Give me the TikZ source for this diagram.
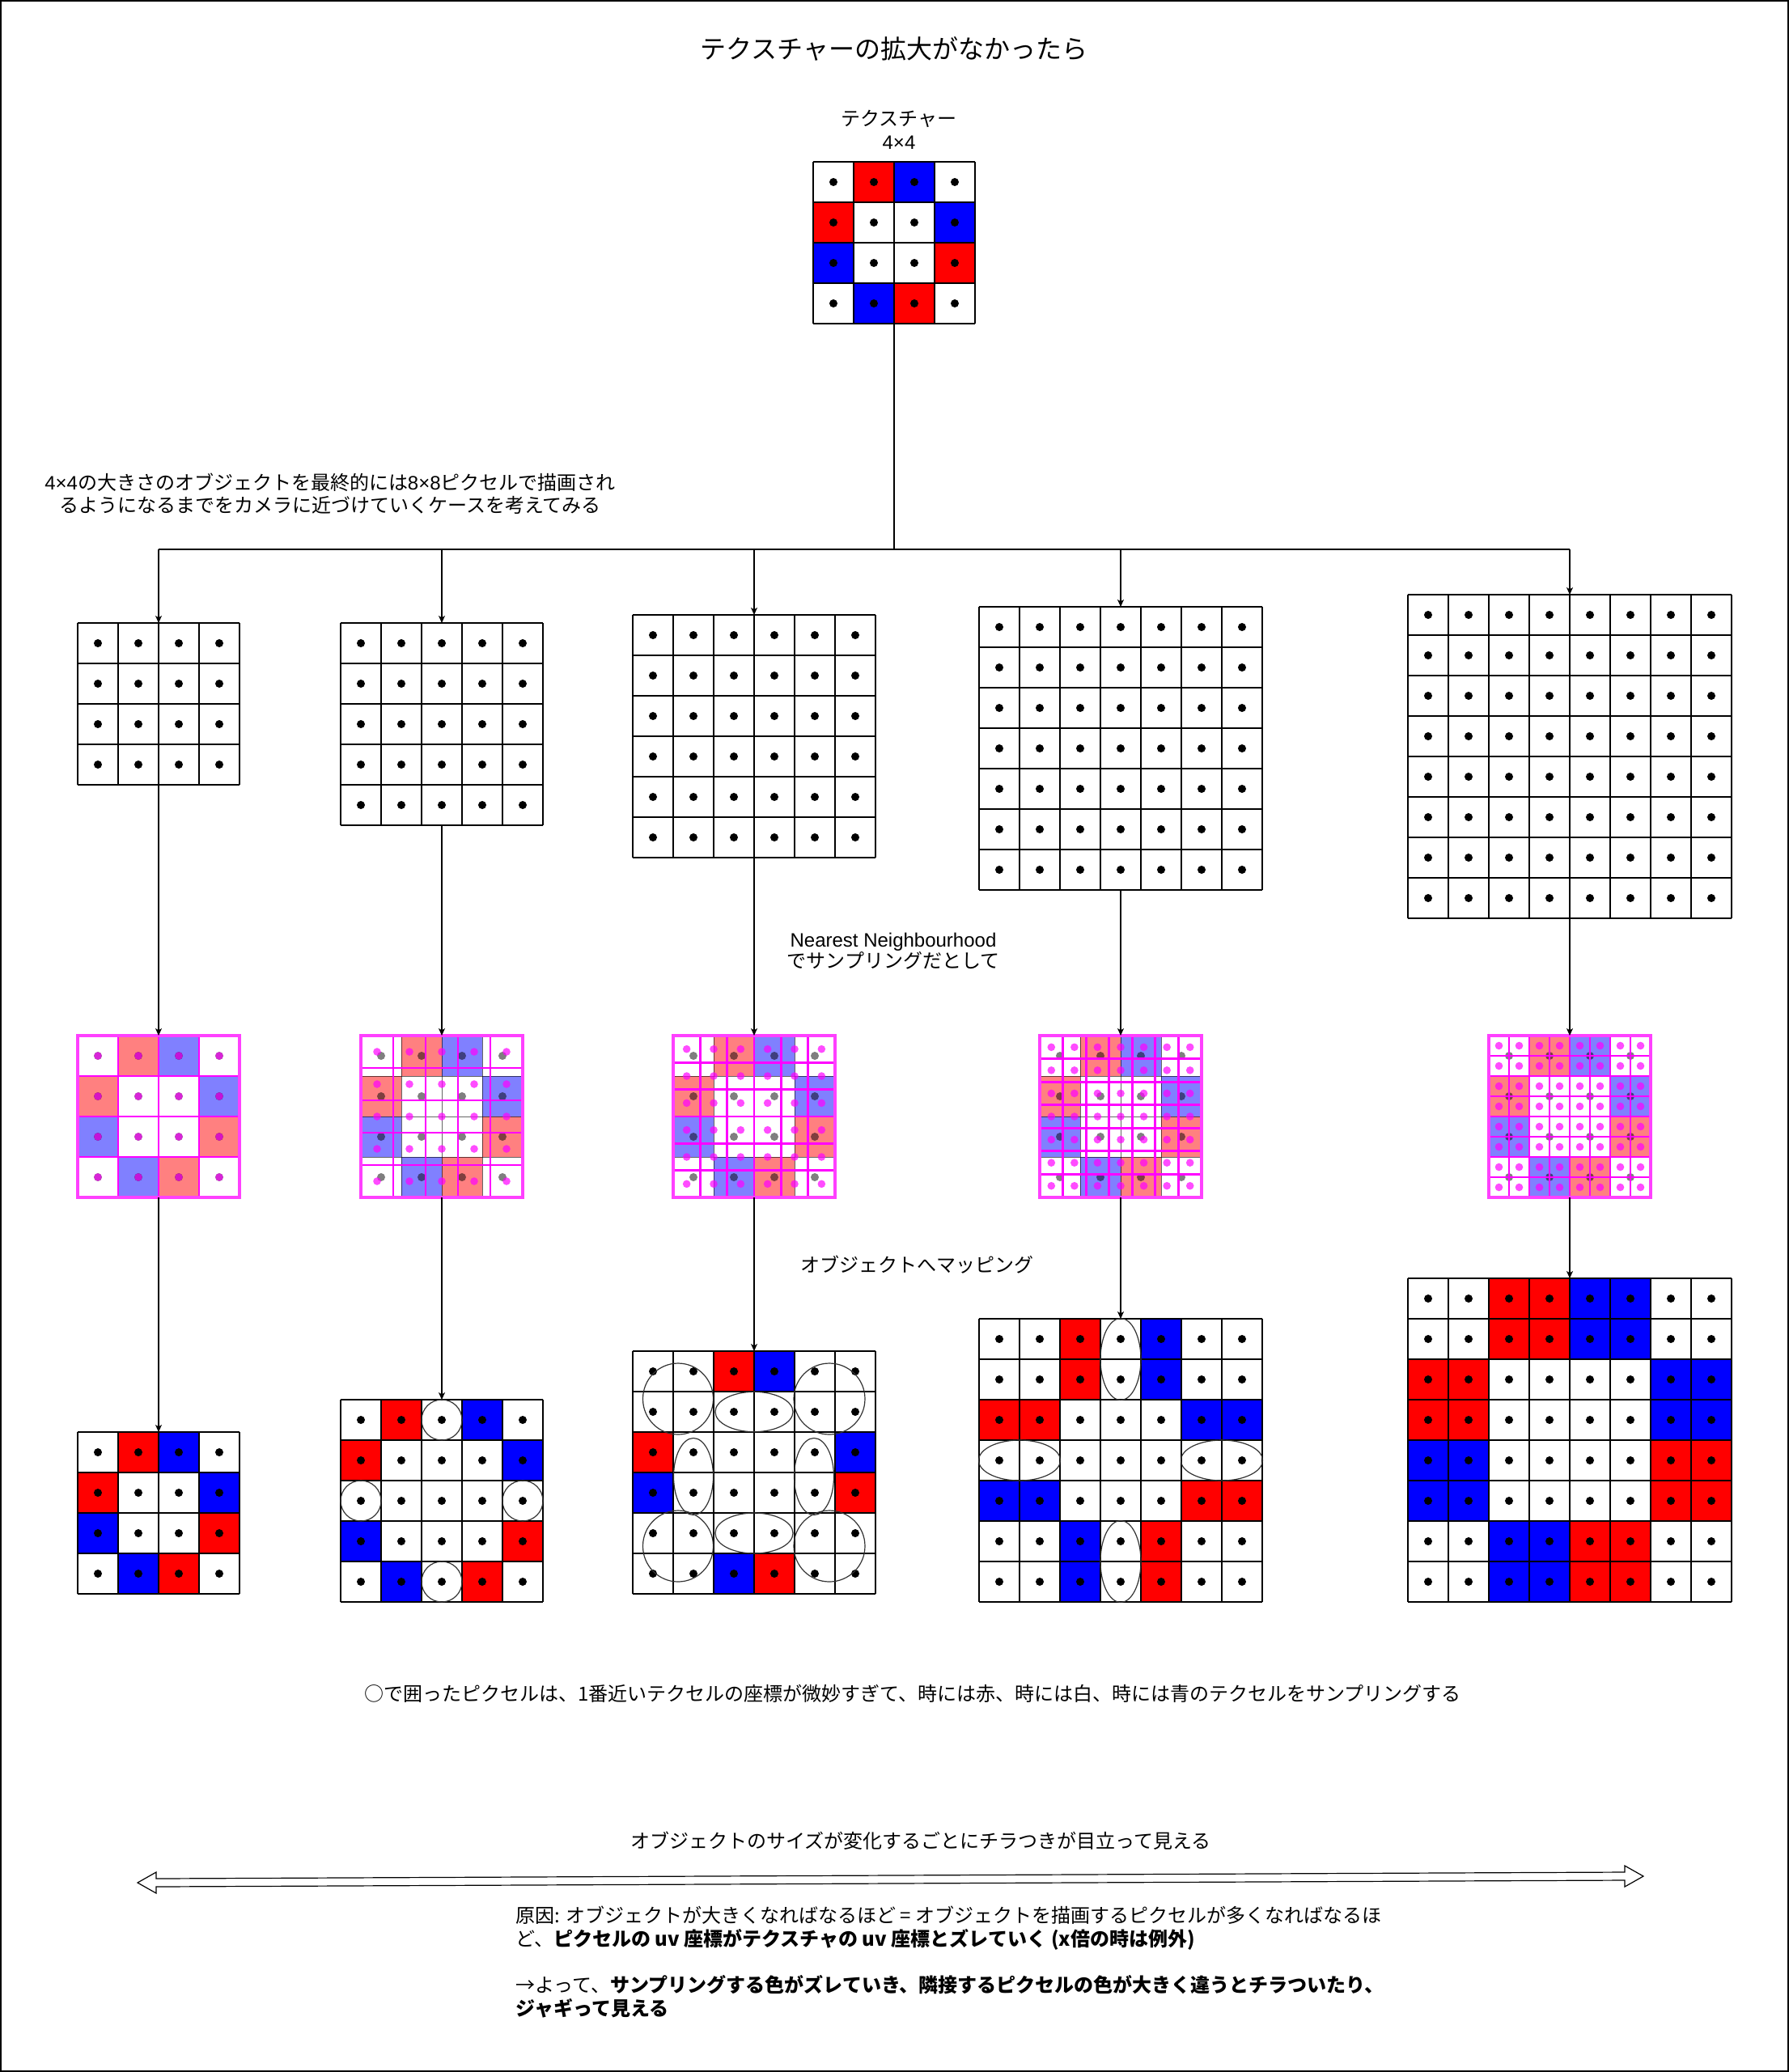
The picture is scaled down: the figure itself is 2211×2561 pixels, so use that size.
\documentclass[tikz,border=0pt]{standalone}
\usepackage{fontspec}
\setmainfont{Noto Sans CJK JP}
\newfontfamily\latf{Liberation Sans}
\usetikzlibrary{arrows.meta}
\definecolor{mymag}{RGB}{255,0,255}
\definecolor{myred}{RGB}{255,0,0}
\definecolor{myblue}{RGB}{0,0,255}
\definecolor{lred}{RGB}{255,128,128}
\definecolor{lblue}{RGB}{128,128,255}
\tikzset{
  gline/.style={draw=black, line width=1pt},
  texline/.style={draw=black, opacity=0.6, line width=0.5pt},
  mgline/.style={draw=mymag, line width=1.4pt},
  mgborder/.style={draw=mymag!75, line width=2pt},
  ellstyle/.style={draw=black!80, line width=0.6pt},
  cline/.style={draw=black, line width=0.7pt},
  conn/.style={draw=black, line width=0.7pt, -{Stealth[length=4.5pt,width=4pt,inset=1.2pt]}},
  gbox/.style={inner sep=0pt, outer sep=0pt},
  txt/.style={font=\fontsize{12}{14.5}\selectfont, inner sep=0pt, align=center},
}
\newcommand\mycell[3]{\fill[#1] ({50*#2},{50*#3}) rectangle ++(50,50);}
\newcommand\mygrid[1]{%
  \foreach \k in {0,...,#1} {%
    \draw[gline] ({50*\k},0) -- ({50*\k},{50*#1});
    \draw[gline] (0,{50*\k}) -- ({50*#1},{50*\k});
  }%
  \foreach \i in {1,...,#1} {\foreach \j in {1,...,#1} {\fill[black] ({50*\i-25},{50*\j-25}) circle[radius=2.5pt];}}%
}
\newcommand\mytexfill[3]{%
  \foreach \c/\r in {1/0,0/1,3/2,2/3} {\fill[#2] ({#1*\c},{#1*\r}) rectangle ++(#1,#1);}%
  \foreach \c/\r in {2/0,3/1,0/2,1/3} {\fill[#3] ({#1*\c},{#1*\r}) rectangle ++(#1,#1);}%
}
\newcommand\myovl[1]{%
  \fill[white] (0,0) rectangle (200,200);
  \mytexfill{50}{lred}{lblue}
  \foreach \k in {0,...,4} {%
    \draw[texline] ({50*\k},0) -- ({50*\k},200);
    \draw[texline] (0,{50*\k}) -- (200,{50*\k});
  }%
  \foreach \i in {0,...,3} {\foreach \j in {0,...,3} {\fill[black,opacity=0.5] ({50*\i+25},{50*\j+25}) circle[radius=2.5pt];}}%
  \pgfmathsetmacro\mystep{200/#1}%
  \foreach \k in {0,...,#1} {%
    \draw[mgline] ({\k*\mystep},0) -- ({\k*\mystep},200);
    \draw[mgline] (0,{\k*\mystep}) -- (200,{\k*\mystep});
  }%
  \foreach \i in {1,...,#1} {\foreach \j in {1,...,#1} {\fill[mymag,opacity=0.7] ({(\i-0.5)*\mystep},{(\j-0.5)*\mystep}) circle[radius=2.4pt];}}%
  \draw[mgborder] (0,0) rectangle (200,200);
}
\newcommand\myell[4]{\draw[ellstyle] (#1,#2) ellipse [x radius={#3*0.5pt}, y radius={#4*0.5pt}];}
\begin{document}
\begin{tikzpicture}[x=0.5pt,y=-0.5pt]
\useasboundingbox (0,0) rectangle (2211,2561);
\fill[white] (0,0) rectangle (2211,2561);
\draw[line width=1pt] (1,1) rectangle (2210,2560);

% ---------- texts ----------
\node[txt, font=\fontsize{16}{19}\selectfont] (title) at (1105,60) {テクスチャーの拡大がなかったら};
\node[txt] (texlabel) at (1111,160) {テクスチャー\\{\latf 4×4}};
\node[txt, font=\fontsize{12}{14}\selectfont] (case) at (408,610) {{\latf 4×4}の大きさのオブジェクトを最終的には{\latf 8×8}ピクセルで描画され\\るようになるまでをカメラに近づけていくケースを考えてみる};
\node[txt, font=\fontsize{12}{13}\selectfont] (nn) at (1104,1176) {{\latf Nearest Neighbourhood}\\でサンプリングだとして};
\node[txt] (map) at (1133,1563) {オブジェクトへマッピング};
\node[txt] (note) at (1128,2093) {○で囲ったピクセルは、1番近いテクセルの座標が微妙すぎて、時には赤、時には白、時には青のテクセルをサンプリングする};
\node[txt] (flick) at (1138,2275) {オブジェクトのサイズが変化するごとにチラつきが目立って見える};
\node[txt, align=left, anchor=west, font=\fontsize{12}{14.3}\selectfont] (cause) at (637,2425) {原因: オブジェクトが大きくなればなるほど = オブジェクトを描画するピクセルが多くなればなるほ\\ど、\textbf{ピクセルの uv 座標がテクスチャの uv 座標とズレていく (x倍の時は例外)}\\[14.3pt]→よって、\textbf{サンプリングする色がズレていき、隣接するピクセルの色が大きく違うとチラついたり、}\\\textbf{ジャギって見える}};

% ---------- texture ----------
\begin{scope}[shift={(1005,200)}]
  \fill[white] (0,0) rectangle (200,200);
  \mytexfill{50}{myred}{myblue}
  \mygrid{4}
\end{scope}
\node[gbox, minimum size=100pt] (tex) at (1105,300) {};

% ---------- top row ----------
\begin{scope}[shift={(96,770)}]\fill[white] (0,0) rectangle (200,200);\mygrid{4}\end{scope}
\begin{scope}[shift={(421,770)}]\fill[white] (0,0) rectangle (250,250);\mygrid{5}\end{scope}
\begin{scope}[shift={(782,760)}]\fill[white] (0,0) rectangle (300,300);\mygrid{6}\end{scope}
\begin{scope}[shift={(1210,750)}]\fill[white] (0,0) rectangle (350,350);\mygrid{7}\end{scope}
\begin{scope}[shift={(1740,735)}]\fill[white] (0,0) rectangle (400,400);\mygrid{8}\end{scope}
\node[gbox, minimum size=100pt] (t1) at (196,870) {};
\node[gbox, minimum size=125pt] (t2) at (546,895) {};
\node[gbox, minimum size=150pt] (t3) at (932,910) {};
\node[gbox, minimum size=175pt] (t4) at (1385,925) {};
\node[gbox, minimum size=200pt] (t5) at (1940,935) {};

% ---------- middle row (overlay) ----------
\begin{scope}[shift={(96,1280)}]\myovl{4}\end{scope}
\begin{scope}[shift={(446,1280)}]\myovl{5}\end{scope}
\begin{scope}[shift={(832,1280)}]\myovl{6}\end{scope}
\begin{scope}[shift={(1285,1280)}]\myovl{7}\end{scope}
\begin{scope}[shift={(1840,1280)}]\myovl{8}\end{scope}
\node[gbox, minimum size=100pt] (m1) at (196,1380) {};
\node[gbox, minimum size=100pt] (m2) at (546,1380) {};
\node[gbox, minimum size=100pt] (m3) at (932,1380) {};
\node[gbox, minimum size=100pt] (m4) at (1385,1380) {};
\node[gbox, minimum size=100pt] (m5) at (1940,1380) {};

% ---------- bottom row ----------
\begin{scope}[shift={(96,1770)}]
  \fill[white] (0,0) rectangle (200,200);
  \mytexfill{50}{myred}{myblue}
  \mygrid{4}
\end{scope}
\begin{scope}[shift={(421,1730)}]
  \fill[white] (0,0) rectangle (250,250);
  \foreach \c/\r in {1/0,0/1,4/3,3/4} {\mycell{myred}{\c}{\r}}
  \foreach \c/\r in {3/0,4/1,0/3,1/4} {\mycell{myblue}{\c}{\r}}
  \mygrid{5}
  \myell{125}{25}{25}{25}
  \myell{25}{125}{25}{25}
  \myell{225}{125}{25}{25}
  \myell{125}{225}{25}{25}
\end{scope}
\begin{scope}[shift={(782,1670)}]
  \fill[white] (0,0) rectangle (300,300);
  \foreach \c/\r in {2/0,0/2,5/3,3/5} {\mycell{myred}{\c}{\r}}
  \foreach \c/\r in {3/0,5/2,0/3,2/5} {\mycell{myblue}{\c}{\r}}
  \mygrid{6}
  \myell{56}{59}{43.5}{44}
  \myell{243}{59}{44}{44}
  \myell{150}{75}{48}{24.7}
  \myell{75}{155}{24.5}{47.5}
  \myell{224}{155}{24.5}{47.5}
  \myell{56}{241}{43.5}{44}
  \myell{150}{225}{48}{25}
  \myell{243}{241}{44}{44}
\end{scope}
\begin{scope}[shift={(1210,1630)}]
  \fill[white] (0,0) rectangle (350,350);
  \foreach \c/\r in {2/0,2/1,0/2,1/2,5/4,6/4,4/5,4/6} {\mycell{myred}{\c}{\r}}
  \foreach \c/\r in {4/0,4/1,5/2,6/2,0/4,1/4,2/5,2/6} {\mycell{myblue}{\c}{\r}}
  \mygrid{7}
  \myell{175}{50}{25}{50.5}
  \myell{50}{175}{50.5}{25}
  \myell{300}{175}{50.5}{25}
  \myell{175}{300}{25}{50.5}
\end{scope}
\begin{scope}[shift={(1740,1580)}]
  \fill[white] (0,0) rectangle (400,400);
  \mytexfill{100}{myred}{myblue}
  \mygrid{8}
\end{scope}
\node[gbox, minimum size=100pt] (b1) at (196,1870) {};
\node[gbox, minimum size=125pt] (b2) at (546,1855) {};
\node[gbox, minimum size=150pt] (b3) at (932,1820) {};
\node[gbox, minimum size=175pt] (b4) at (1385,1805) {};
\node[gbox, minimum size=200pt] (b5) at (1940,1780) {};

% ---------- connectors ----------
\coordinate (bus) at (1105,679);
\coordinate (k1) at (196,679);
\coordinate (k2) at (546,679);
\coordinate (k3) at (932,679);
\coordinate (k4) at (1385,679);
\coordinate (k5) at (1940,679);
\draw[cline] (tex.south) -- (bus);
\draw[cline] (k1) -- (k5);
\foreach \n in {1,...,5} {
  \draw[conn] (k\n) -- (t\n.north);
  \draw[conn] (t\n.south) -- (m\n.north);
  \draw[conn] (m\n.south) -- (b\n.north);
}

% ---------- double hollow arrow ----------
\coordinate (al) at (170,2327);
\coordinate (ar) at (2031,2319);
\draw[line width=0.6pt, fill=white] (al) -- (193,2314) -- (193,2322) -- (2008,2314) -- (2008,2306) -- (ar) -- (2008,2332) -- (2008,2324) -- (193,2332) -- (193,2340) -- cycle;
\end{tikzpicture}
\end{document}
